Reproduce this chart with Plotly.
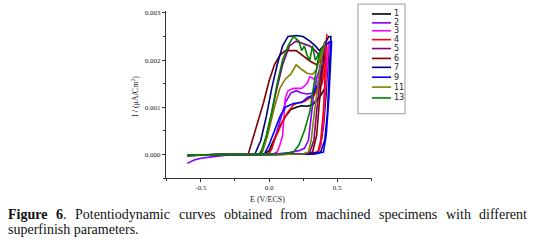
import plotly.graph_objects as go

# ---------------- data (E in V/ECS, I in A/cm2) ----------------
series_names = ["1", "2", "3", "4", "5", "6", "7", "9", "11", "13"]
series_colors = ["#000000", "#8000ff", "#ff00ff", "#ff0000", "#800080",
                 "#800000", "#000080", "#0000ff", "#808000", "#008000"]

E_1 = [-0.6, -0.4, -0.2, 0.0, 0.2, 0.3, 0.36, 0.38, 0.40, 0.42, 0.43, 0.44,
       0.43, 0.41, 0.39, 0.37, 0.35, 0.32, 0.28, 0.24, 0.20, 0.16, 0.12, 0.08, 0.05, 0.02, 0.0, -0.03, -0.1]
I_1 = [-0.00002, -0.00001, 0.0, 0.0, 0.00001, 0.00002, 0.00005, 0.0002, 0.0006, 0.0013, 0.0019, 0.0024,
       0.0017, 0.0014, 0.0013, 0.0012, 0.00115, 0.00105, 0.00102, 0.00103, 0.0010, 0.00095, 0.0008, 0.0006, 0.0004, 0.0002, 0.00008, 0.00002, 0.0]

E_2 = [-0.6, -0.55, -0.5, -0.4, -0.3, -0.1, 0.05, 0.15, 0.22, 0.26, 0.29, 0.31, 0.33, 0.35, 0.37, 0.39, 0.41,
       0.40, 0.37, 0.33, 0.28, 0.24, 0.20, 0.16, 0.12, 0.08, 0.05, 0.02, 0.0, -0.1]
I_2 = [-0.00019, -0.00012, -0.00008, -0.00004, -0.00001, 0.0, 0.00001, 0.00004, 0.00008, 0.00013, 0.0003, 0.0008, 0.0013, 0.0016, 0.0018, 0.0021, 0.0023,
       0.0019, 0.0015, 0.0013, 0.00128, 0.0013, 0.00135, 0.0013, 0.0011, 0.0007, 0.0004, 0.00012, 0.00002, 0.0]

E_3 = [-0.6, -0.3, 0.0, 0.3, 0.36, 0.38, 0.40, 0.42, 0.43, 0.44,
       0.42, 0.38, 0.33, 0.30, 0.28, 0.24, 0.18, 0.14, 0.12, 0.11, 0.10, 0.08, 0.06, 0.03]
I_3 = [-0.00001, 0.0, 0.0, 0.00001, 0.00005, 0.0002, 0.0007, 0.0015, 0.0021, 0.0024,
       0.0018, 0.0017, 0.0016, 0.00165, 0.0015, 0.0014, 0.0014, 0.00135, 0.0012, 0.0008, 0.0004, 0.0002, 0.00005, 0.00001]

E_4 = [-0.6, -0.3, 0.0, 0.32, 0.36, 0.38, 0.40, 0.41, 0.42, 0.425,
       0.41, 0.39, 0.36, 0.33, 0.30, 0.26, 0.22, 0.18, 0.14, 0.10, 0.07, 0.04, 0.02, 0.0]
I_4 = [-0.00002, 0.0, 0.0, 0.00001, 0.00005, 0.0003, 0.0009, 0.0016, 0.0022, 0.00255,
       0.0018, 0.0015, 0.0014, 0.00125, 0.0012, 0.00112, 0.0011, 0.00105, 0.0009, 0.0007, 0.0005, 0.0003, 0.00012, 0.00003]

E_5 = [-0.6, -0.3, 0.0, 0.25, 0.30, 0.33, 0.35, 0.37, 0.39, 0.41,
       0.40, 0.37, 0.34, 0.30, 0.25, 0.20, 0.15, 0.10, 0.05, 0.0, -0.04, -0.07]
I_5 = [-0.00002, 0.0, 0.0, 0.00001, 0.00005, 0.0003, 0.0009, 0.0015, 0.0020, 0.0023,
       0.0021, 0.0021, 0.0022, 0.0023, 0.00235, 0.0024, 0.0023, 0.0019, 0.0013, 0.0006, 0.00015, 0.00002]

E_6 = [-0.6, -0.3, 0.0, 0.28, 0.32, 0.35, 0.37, 0.39, 0.41,
       0.38, 0.35, 0.30, 0.25, 0.20, 0.12, 0.08, 0.04, 0.0, -0.04, -0.08, -0.12, -0.15]
I_6 = [-0.00002, 0.0, 0.0, 0.00001, 0.00005, 0.0004, 0.0011, 0.0017, 0.0021,
       0.0020, 0.0019, 0.00198, 0.0021, 0.0022, 0.0022, 0.0021, 0.0019, 0.00155, 0.0011, 0.0007, 0.0003, 0.00003]

E_7 = [-0.6, -0.3, 0.0, 0.30, 0.38, 0.41, 0.43, 0.44, 0.45, 0.455,
       0.44, 0.40, 0.37, 0.34, 0.30, 0.25, 0.20, 0.14, 0.10, 0.06, 0.02, -0.02, -0.06, -0.10]
I_7 = [-0.00002, 0.0, 0.0, 0.00001, 0.00005, 0.0003, 0.0009, 0.0015, 0.0020, 0.0025,
       0.0025, 0.0023, 0.0022, 0.0023, 0.0024, 0.0025, 0.00252, 0.0025, 0.0023, 0.0019, 0.0014, 0.0008, 0.0003, 0.00003]

E_9 = [-0.6, -0.3, 0.0, 0.34, 0.40, 0.42, 0.44, 0.45, 0.46,
       0.40, 0.38, 0.36, 0.32, 0.28, 0.24, 0.18, 0.12, 0.08, 0.04, 0.0, -0.03]
I_9 = [-0.00002, 0.0, 0.0, 0.00001, 0.00005, 0.0004, 0.0012, 0.0019, 0.0024,
       0.0023, 0.0018, 0.0015, 0.00125, 0.0012, 0.0011, 0.00108, 0.0010, 0.0008, 0.0005, 0.0002, 0.00003]

E_11 = [-0.6, -0.3, 0.0, 0.25, 0.29, 0.31, 0.33, 0.35, 0.37, 0.39, 0.41,
        0.40, 0.38, 0.35, 0.32, 0.28, 0.24, 0.20, 0.16, 0.12, 0.08, 0.04, -0.01, -0.05]
I_11 = [-0.00002, 0.0, 0.0, 0.00001, 0.00005, 0.0003, 0.0008, 0.0013, 0.0017, 0.0021, 0.0024,
        0.0023, 0.0021, 0.0018, 0.0017, 0.00172, 0.0018, 0.0019, 0.0017, 0.0016, 0.0014, 0.0010, 0.0004, 0.00003]

E_13 = [-0.6, -0.3, 0.0, 0.10, 0.18, 0.22, 0.26, 0.30, 0.32, 0.34, 0.36, 0.38,
        0.40, 0.38, 0.36, 0.34, 0.32, 0.30, 0.28, 0.26, 0.24, 0.22, 0.20, 0.18, 0.14, 0.10, 0.06, 0.02, -0.02, -0.06]
I_13 = [-0.00002, 0.0, 0.0, 0.00001, 0.00005, 0.0002, 0.0005, 0.0009, 0.0013, 0.0017, 0.0020, 0.0022,
        0.0023, 0.0022, 0.0021, 0.0020, 0.0023, 0.0020, 0.0021, 0.0023, 0.0022, 0.0024, 0.00245, 0.0025, 0.0023, 0.0020, 0.0015, 0.0009, 0.0004, 0.00003]

series_E = [E_1, E_2, E_3, E_4, E_5, E_6, E_7, E_9, E_11, E_13]
series_I = [I_1, I_2, I_3, I_4, I_5, I_6, I_7, I_9, I_11, I_13]

x_ticks = [-0.5, 0.0, 0.5]
x_tick_labels = ["-0.5", "0.0", "0.5"]
y_ticks = [0.0, 0.001, 0.002, 0.003]
y_tick_labels = ["0.000", "0.001", "0.002", "0.003"]

caption_words_line1 = ["<b>Figure</b>", "<b>6</b>.", "Potentiodynamic", "curves", "obtained", "from",
                       "machined", "specimens", "with", "different"]
caption_line2 = "superfinish parameters."

# ---------------- layout helpers ----------------
W, H = 533, 244
ML, MR, MT, MB = 166, 161, 9, 66
PW, PH = W - ML - MR, H - MT - MB
FONT = "'Liberation Serif', 'Times New Roman', 'DejaVu Serif', serif"
LEG_FONT = "'DejaVu Sans', 'Liberation Sans', sans-serif"


def px(xp):
    return (xp - ML) / PW


def py(yp):
    return (H - MB - yp) / PH


fig = go.Figure()
for name, color, E, I in zip(series_names, series_colors, series_E, series_I):
    fig.add_trace(go.Scatter(x=E, y=I, mode="lines", name=name,
                             line=dict(color=color, width=1.6), showlegend=False))

fig.update_layout(
    width=W, height=H,
    margin=dict(l=ML, r=MR, t=MT, b=MB, pad=0),
    paper_bgcolor="white", plot_bgcolor="white",
    font=dict(family=FONT, size=7, color="#222222"),
    xaxis=dict(range=[-0.757, 0.757], tickmode="array", tickvals=x_ticks, ticktext=x_tick_labels,
               showgrid=False, zeroline=False, showline=True, linecolor="#333333", linewidth=1,
               ticks="outside", ticklen=3, tickcolor="#333333", tickfont=dict(family=FONT, size=7),
               minor=dict(tickvals=[-0.75, -0.25, 0.25, 0.75], ticks="outside", ticklen=2, tickcolor="#333333")),
    yaxis=dict(range=[-0.0005, 0.00304], tickmode="array", tickvals=y_ticks, ticktext=y_tick_labels,
               showgrid=False, zeroline=False, showline=True, linecolor="#333333", linewidth=1,
               ticks="outside", ticklen=3, tickcolor="#333333", tickfont=dict(family=FONT, size=7),
               minor=dict(tickvals=[-0.0005, 0.0005, 0.0015, 0.0025], ticks="outside", ticklen=2, tickcolor="#333333")),
)

# axis titles
fig.add_annotation(x=px(267), y=py(200), xref="paper", yref="paper", text="E (V/ECS)",
                   showarrow=False, font=dict(family=FONT, size=8, color="#222222"),
                   xanchor="center", yanchor="middle")
fig.add_annotation(x=px(135), y=py(96), xref="paper", yref="paper", text="I / (μA/Cm<sup>2</sup>)",
                   showarrow=False, textangle=-90, font=dict(family=FONT, size=8, color="#222222"),
                   xanchor="center", yanchor="middle")

# hand-built legend box
fig.add_shape(type="rect", xref="paper", yref="paper", x0=px(358), x1=px(405), y0=py(113), y1=py(2),
              line=dict(color="#999999", width=1), fillcolor="white", layer="above")
legend_y = [12, 21, 29, 38, 47, 57, 66, 76, 86, 97]
for name, color, ly in zip(series_names, series_colors, legend_y):
    fig.add_shape(type="line", xref="paper", yref="paper", x0=px(372), x1=px(391), y0=py(ly), y1=py(ly),
                  line=dict(color=color, width=1.6), layer="above")
    fig.add_annotation(x=px(391.5), y=py(ly), xref="paper", yref="paper", text=name, showarrow=False,
                       font=dict(family=LEG_FONT, size=8, color="#222222"), xanchor="left", yanchor="middle")

# caption, line 1 justified between x=7 and x=526 (word start positions)
word_x = [6, 54, 73, 176.5, 221.5, 278, 314, 377, 443.5, 477]
for wtxt, wx in zip(caption_words_line1, word_x):
    fig.add_annotation(x=px(wx), y=py(215), xref="paper", yref="paper", text=wtxt, showarrow=False,
                       font=dict(family=FONT, size=14, color="#111111"), xanchor="left", yanchor="middle")
fig.add_annotation(x=px(6), y=py(230), xref="paper", yref="paper", text=caption_line2, showarrow=False,
                   font=dict(family=FONT, size=14, color="#111111"), xanchor="left", yanchor="middle")

fig.write_html("out.html", config={"displayModeBar": False},
               post_script="document.body.style.margin='0';document.body.style.overflow='hidden';")
